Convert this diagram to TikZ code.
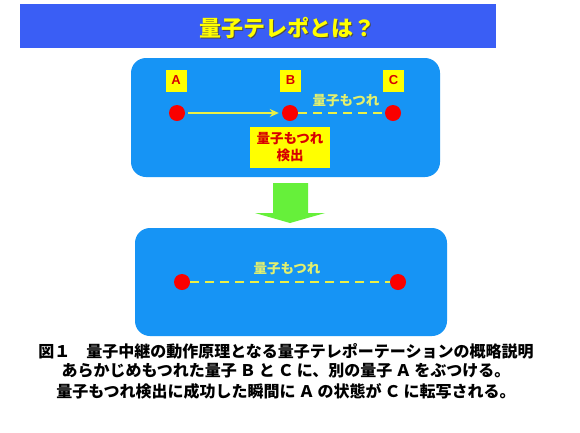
\documentclass[tikz,border=0pt]{standalone}
\usepackage{fontspec}
\newfontfamily\jp{Noto Sans CJK JP}
\newfontfamily\lat{Liberation Sans}
\usetikzlibrary{arrows.meta}
\definecolor{titleblue}{RGB}{58,94,245}
\definecolor{boxblue}{RGB}{22,148,245}
\definecolor{lblyellow}{RGB}{255,255,0}
\definecolor{ltyellow}{RGB}{226,240,110}
\definecolor{lineyellow}{RGB}{235,240,70}
\definecolor{dotred}{RGB}{250,0,0}
\definecolor{txtred}{RGB}{215,0,0}
\definecolor{arrgreen}{RGB}{102,240,58}
\newcommand{\lsp}[1]{\hspace{3pt}#1\hspace{3pt}}
\tikzset{
  panel/.style={fill=boxblue, draw=none, rounded corners=15pt},
  letterbox/.style={fill=lblyellow, draw=none, minimum width=21pt, minimum height=22pt, inner sep=0pt,
    text=txtred, font=\lat\bfseries\fontsize{13}{13}\selectfont},
  dot/.style={circle, fill=dotred, draw=none, minimum size=16pt, inner sep=0pt},
  entlabel/.style={text=ltyellow, font=\jp\bfseries\fontsize{13.5}{14}\selectfont, inner sep=0pt},
  entline/.style={draw=lineyellow, line width=2.8pt, dash pattern=on 9pt off 6pt},
  moveline/.style={draw=lineyellow, line width=2pt, -{Stealth[length=9pt,width=8pt]}},
  caption/.style={font=\jp\bfseries\fontsize{16}{20}\selectfont, inner sep=0pt, text=black},
}
\begin{document}
\begin{tikzpicture}[x=1pt,y=-1pt]
\useasboundingbox (0,0) rectangle (580,432);
\fill[white] (0,0) rectangle (580,432);
% title bar
\fill[titleblue] (20,4) rectangle (496,48);
\node[font=\jp\bfseries\fontsize{22}{22}\selectfont, text=black!70, inner sep=0pt] (titleshadow) at (288.2,29.2) {量子テレポとは？};
\node[font=\jp\bfseries\fontsize{22}{22}\selectfont, text=lblyellow, inner sep=0pt] (title) at (287,28) {量子テレポとは？};
% top panel
\fill[panel] (131,58) rectangle (440,177);
\node[letterbox] (la) at (176,80.5) {A};
\node[letterbox] (lb) at (290.5,80.5) {B};
\node[letterbox] (lc) at (393.5,80.5) {C};
\node[dot] (da) at (177,113) {};
\node[dot] (db) at (290,113) {};
\node[dot] (dc) at (393,113) {};
\draw[moveline] ([xshift=3pt]da.east) -- ([xshift=-3pt]db.west);
\draw[entline] (db.east) -- (dc.west);
\node[entlabel] (ent1) at (346,101) {量子もつれ};
\node[fill=lblyellow, minimum width=80pt, minimum height=41pt, inner sep=0pt, align=center,
  text=txtred, font=\jp\bfseries\fontsize{13.5}{17}\selectfont] (detect) at (290,147.5) {量子もつれ\\検出};
% green arrow
\fill[arrgreen] (273,183) -- (308,183) -- (308,213) -- (325,213) -- (290,223) -- (255,213) -- (273,213) -- cycle;
% bottom panel
\fill[panel] (135,228) rectangle (447,336);
\node[dot] (dl) at (182,282) {};
\node[dot] (dr) at (398,282) {};
\draw[entline] (dl.east) -- (dr.west);
\node[entlabel] (ent2) at (287,269) {量子もつれ};
% caption
\node[caption] (cap1) at (286,351) {図１　量子中継の動作原理となる量子テレポーテーションの概略説明};
\node[caption] (cap2) at (286,371) {あらかじめもつれた量子\lsp{Ｂ}と\lsp{Ｃ}に、別の量子\lsp{Ａ}をぶつける。};
\node[caption] (cap3) at (286,391) {量子もつれ検出に成功した瞬間に\lsp{Ａ}の状態が\lsp{Ｃ}に転写される。};
\end{tikzpicture}
\end{document}
